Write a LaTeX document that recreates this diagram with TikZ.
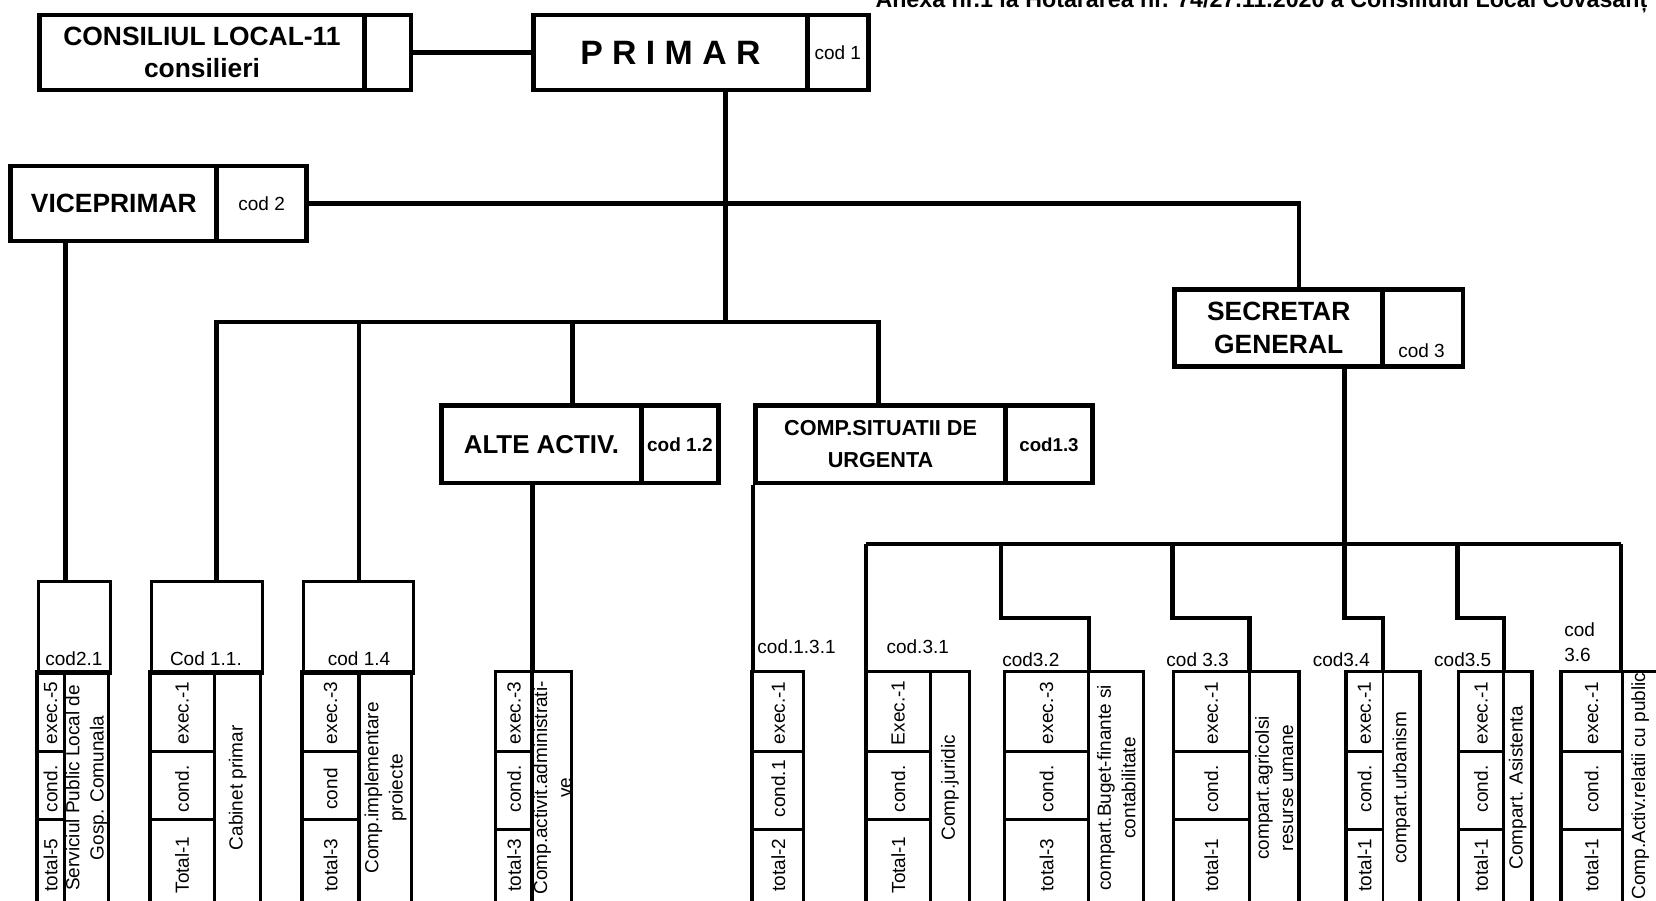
\documentclass[tikz,border=0pt]{standalone}
\usepackage{fontspec}
\setmainfont{Liberation Sans}
\tikzset{
  tbox/.style={draw, line width=4.5pt, inner sep=0pt, anchor=north west},
  hbox/.style={draw, line width=3pt, inner sep=0pt, anchor=north west},
  big/.style={font=\fontsize{25}{31}\selectfont\bfseries, align=center},
  conn/.style={line width=4.2pt},
  bline/.style={line width=3pt},
  rline/.style={line width=2.8pt},
  lab/.style={font=\fontsize{18}{24}\selectfont, inner sep=0pt},
  rlab/.style={font=\fontsize{18}{23}\selectfont, rotate=90, align=center, inner sep=0pt},
}
\newcommand\cellcol[8]{%
  \draw[bline] (#1,636) rectangle (#3,860);
  \draw[rline] (#2,636) -- (#2,860) (#1,712) -- (#2,712) (#1,#4) -- (#2,#4);
  \node[lab,rotate=90] (#8e) at ({(#1+#2)/2},675) {#5};
  \node[lab,rotate=90] (#8c) at ({(#1+#2)/2},747) {#6};
  \node[lab,rotate=90] (#8t) at ({(#1+#2)/2},819) {#7};
}
\begin{document}
\begin{tikzpicture}[x=1pt,y=-1pt]
\useasboundingbox (0,0) rectangle (1568,853);
\clip (0,0) rectangle (1568,853);

% header
\node[font=\fontsize{22}{24}\selectfont\bfseries, anchor=base east, inner sep=0pt] (anexa) at (1560,7)
  {Anexa nr.1 la Hotararea nr. 74/27.11.2020 a Consiliului Local Covasanț};

% top level boxes
\node[tbox,big,minimum width=308pt,minimum height=71pt] (cl) at (35,12) {CONSILIUL LOCAL-11\\consilieri};
\node[tbox,minimum width=44pt,minimum height=71pt] (clc) at (343,12) {};
\node[tbox,font=\fontsize{32}{36}\selectfont\bfseries,minimum width=259pt,minimum height=71pt] (pr) at (503,12) {P R I M A R};
\node[tbox,lab,minimum width=58pt,minimum height=71pt] (prc) at (762,12) {cod 1};

\node[tbox,big,minimum width=195pt,minimum height=71pt] (vp) at (8,155) {VICEPRIMAR};
\node[tbox,lab,minimum width=85pt,minimum height=71pt] (vpc) at (203,155) {cod 2};

\node[tbox,big,minimum width=197pt,minimum height=73pt] (sg) at (1110,272) {SECRETAR\\GENERAL};
\node[tbox,minimum width=76pt,minimum height=73pt] (sgc) at (1307,272) {};
\node[lab] (sgct) at (1346,332) {cod 3};

\node[tbox,font=\fontsize{24.5}{30}\selectfont\bfseries,minimum width=189pt,minimum height=73pt] (al) at (416,382) {ALTE ACTIV.};
\node[tbox,font=\fontsize{18}{22}\selectfont\bfseries,minimum width=73pt,minimum height=73pt] (alc) at (605,382) {cod 1.2};

\node[tbox,font=\fontsize{20.5}{30}\selectfont\bfseries,align=center,minimum width=237pt,minimum height=73pt] (cs) at (713,382) {COMP.SITUATII DE\\URGENTA};
\node[tbox,font=\fontsize{17.7}{22}\selectfont\bfseries,minimum width=82pt,minimum height=73pt] (csc) at (950,382) {cod1.3};

% header boxes of the left columns
\node[hbox,minimum width=68pt,minimum height=87pt] (c21h) at (35,549) {};
\node[hbox,minimum width=105pt,minimum height=87pt] (c11h) at (142,549) {};
\node[hbox,minimum width=104pt,minimum height=87pt] (c14h) at (286,549) {};

% junction coordinates
\coordinate (jp) at (687,305);
\coordinate (b1) at (205,305);
\coordinate (b4) at (340,305);
\coordinate (b2) at (542,305);
\coordinate (b3) at (832,305);
\coordinate (sgtop) at (1230,272);
\coordinate (vpx) at (62,0);
\coordinate (alx) at (504,0);
\coordinate (s0) at (820,515);
\coordinate (s2) at (948,515);
\coordinate (s3) at (1110,515);
\coordinate (s4) at (1273,515);
\coordinate (s5) at (1380,515);
\coordinate (s6) at (1535,515);
\coordinate (t1) at (820,636);
\coordinate (t2) at (1031,636);
\coordinate (t3) at (1183,636);
\coordinate (t4) at (1309.5,636);
\coordinate (t5) at (1424,636);
\coordinate (t6) at (1535,636);
\coordinate (ca) at (504,636);
\coordinate (c131) at (713,636);

% connectors
\draw[conn] (clc.east) -- (pr.west);
\draw[conn] (pr.south -| jp) -- (jp);
\draw[conn] (vpc.east) -| (sgtop);
\draw[conn] (vp.south -| vpx) -- (c21h.north -| vpx);
\draw[conn] (c11h.north -| b1) -- (b1) -- (b3) -- (cs.north -| b3);
\draw[conn] (b4) -- (c14h.north -| b4);
\draw[conn] (b2) -- (al.north -| b2);
\draw[conn] (al.south -| alx) -- (ca);
\draw[conn] (cs.south west) -- (c131);
\draw[conn] (sgc.south -| s4) -- (s4);
\draw[conn] (s0) -- (s6);
\draw[conn] (s0) -- (t1);
\draw[conn] (s2) |- ([yshift=-70pt]s2 -| t2) -- (t2);
\draw[conn] (s3) |- ([yshift=-70pt]s3 -| t3) -- (t3);
\draw[conn] (s4) |- ([yshift=-70pt]s4 -| t4) -- (t4);
\draw[conn] (s5) |- ([yshift=-70pt]s5 -| t5) -- (t5);
\draw[conn] (s6) -- (t6);

% header labels
\node[lab] (c21l) at (70,624) {cod2.1};
\node[lab] (c11l) at (195,624) {Cod 1.1.};
\node[lab] (c14l) at (340,624) {cod 1.4};
\node[lab,anchor=west] (c131l) at (717,612) {cod.1.3.1};
\node[lab] (c31l) at (869,612) {cod.3.1};
\node[lab] (c32l) at (976,625) {cod3.2};
\node[lab] (c33l) at (1134,625) {cod 3.3};
\node[lab] (c34l) at (1270,625) {cod3.4};
\node[lab] (c35l) at (1385,625) {cod3.5};
\node[lab,align=left,anchor=west] (c36l) at (1481,608) {cod\\3.6};

% column bodies
\cellcol{35}{61}{103}{776}{exec.-5}{cond.}{total-5}{c21}
\node[rlab] (c21r) at (82,746) {Serviciul Public Local de\\Gosp. Comunala};

\cellcol{142}{203}{247}{776}{exec.-1}{cond.}{Total-1}{c11}
\node[rlab] (c11r) at (225,746) {Cabinet primar};

\cellcol{286}{340}{390}{776}{exec.-3}{cond}{total-3}{c14}
\draw[line width=4pt] (340,636) -- (340,860);
\node[rlab] (c14r) at (365,746) {Comp.implementare\\proiecte};

\cellcol{469.5}{504}{541}{785}{exec.-3}{cond.}{total-3}{cax}
\draw[line width=4pt] (504,636) -- (504,860);
\node[rlab] (car) at (523,746) {Comp.activit.administrati-\\ve};

% cod 1.3.1 single column
\draw[bline] (712,636) rectangle (761,860);
\draw[rline] (712,712) -- (761,712) (712,785) -- (761,785);
\node[lab,rotate=90] (c131e) at (737,675) {exec.-1};
\node[lab,rotate=90] (c131c) at (737,747) {cond.1};
\node[lab,rotate=90] (c131t) at (737,819) {total-2};

\cellcol{820}{881}{918}{776}{Exec.-1}{cond.}{Total-1}{c31}
\node[rlab] (c31r) at (899.5,746) {Comp.juridic};

\cellcol{951}{1031}{1083}{776}{exec.-3}{cond.}{total-3}{c32}
\node[rlab] (c32r) at (1057,746) {compart.Buget-finante si\\contabilitate};

\cellcol{1111}{1183}{1230}{776}{exec.-1}{cond.}{total-1}{c33}
\node[rlab] (c33r) at (1206.5,746) {compart.agricolsi\\resurse umane};

\cellcol{1274.5}{1309.5}{1344.6}{785}{exec.-1}{cond.}{total-1}{c34}
\node[rlab] (c34r) at (1327,746) {compart.urbanism};

\cellcol{1380.7}{1424}{1450.5}{785}{exec.-1}{cond.}{total-1}{c35}
\node[rlab] (c35r) at (1437,746) {Compart. Asistenta};

\cellcol{1478}{1536}{1600}{785}{exec.-1}{cond.}{total-1}{c36}
\begin{scope}
\clip (1537,638) rectangle (1600,860);
\node[lab,rotate=90,anchor=west] (c36r) at (1553,852) {Comp.Activ.relatii cu publicul};
\end{scope}
\end{tikzpicture}
\end{document}
